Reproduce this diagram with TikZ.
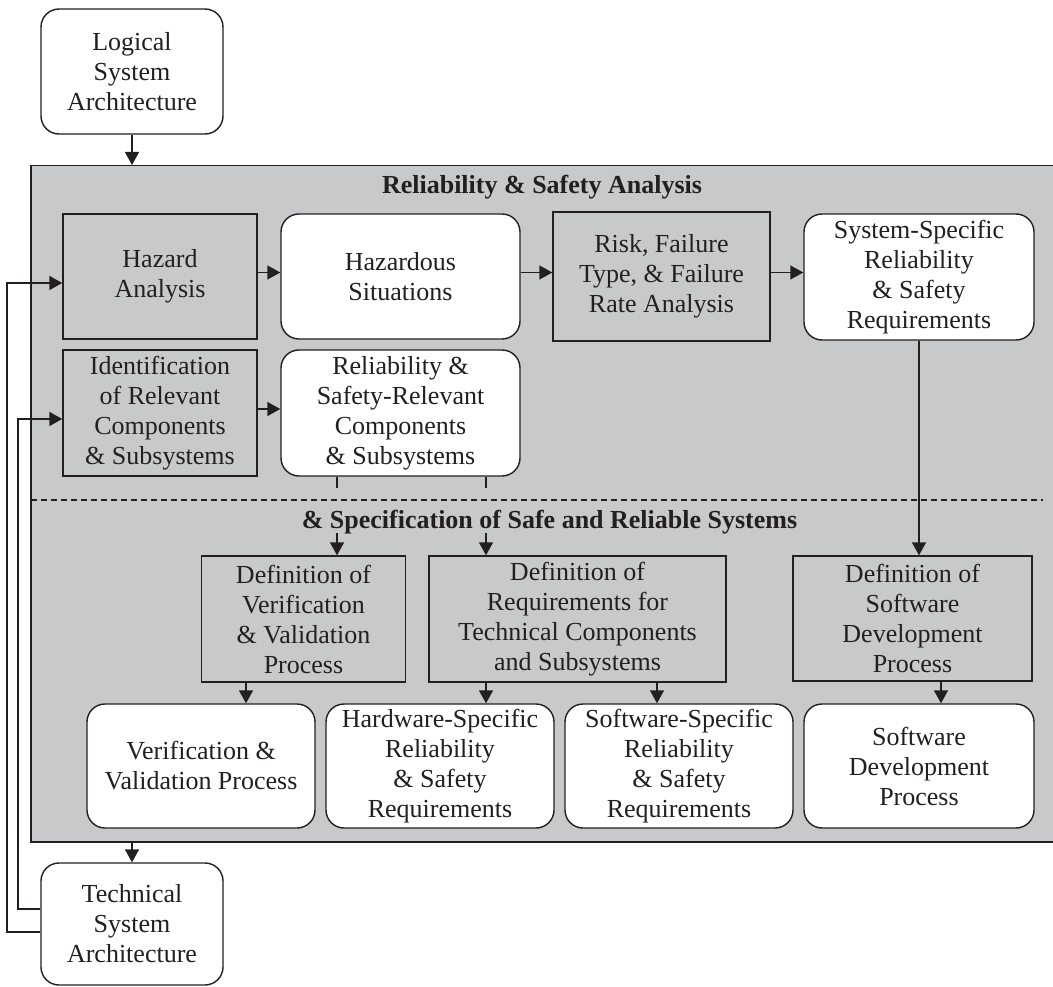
\documentclass[tikz,border=0pt]{standalone}
\usepackage{fontspec}
\setmainfont{Liberation Serif}
\usetikzlibrary{arrows.meta,calc}
\definecolor{panelgray}{HTML}{C8C9CB}
\definecolor{ink}{HTML}{231F20}

\begin{document}
\begin{tikzpicture}[x=1pt,y=-1pt,
  every node/.style={font=\fontsize{26}{30}\selectfont, text=ink, align=center, inner sep=0pt},
  dims/.style 2 args={minimum width=#1pt, minimum height=#2pt},
  procbox/.style={draw=ink, line width=1.4pt, fill=panelgray},
  resbox/.style={draw=ink, line width=1.4pt, fill=white, rounded corners=18pt},
  heading/.style={font=\fontsize{26}{30}\selectfont\bfseries},
  link/.style={draw=ink, line width=1.4pt},
  flow/.style={link, -{Triangle[length=13pt,width=14pt]}},
]
\useasboundingbox (0,0) rectangle (1053,987);

% shaded analysis panel
\node[procbox, line width=1.5pt, anchor=north west, dims={1040}{676}] (panel) at (30,165) {};

% architecture inputs and outputs
\node[resbox, dims={182}{125}] (logical) at (132,71.5) {Logical\\System\\Architecture};
\node[resbox, dims={182}{122}] (tech) at (132,924) {Technical\\System\\Architecture};

% headings and separator
\node[heading] (h1) at (542,187) {Reliability \& Safety Analysis};
\node[heading] (h2) at (549.5,522) {\& Specification of Safe and Reliable Systems};
\coordinate (dl) at (31,500);
\coordinate (dr) at (1043,500);
\draw[draw=ink, line width=1.1pt, dash pattern=on 6pt off 4pt] (dl) -- (dr);

% analysis row
\node[procbox, dims={194}{125}] (ha) at (160,276.5) {Hazard\\Analysis};
\node[resbox, dims={239}{125}] (hs) at (400.5,276.5) {Hazardous\\Situations};
\node[procbox, dims={217}{129}] (risk) at (661.5,276.5) {Risk, Failure\\Type, \& Failure\\Rate Analysis};
\node[resbox, dims={230}{126}] (sys) at (919,277) {System-Specific\\Reliability\\\& Safety\\Requirements};

\node[procbox, dims={194}{126}] (id) at (160,413) {Identification\\of Relevant\\Components\\\& Subsystems};
\node[resbox, dims={239}{126}] (rsr) at (400.5,413) {Reliability \&\\Safety-Relevant\\Components\\\& Subsystems};

% specification row
\node[procbox, dims={204}{126}] (defvv) at (303.5,619) {Definition of\\Verification\\\& Validation\\Process};
\node[procbox, dims={297}{126}] (defreq) at (577.5,619) {Definition of\\Requirements for\\Technical Components\\and Subsystems};
\node[procbox, dims={239}{125}] (defsw) at (912.5,618.5) {Definition of\\Software\\Development\\Process};

\node[resbox, dims={228}{124}] (vvp) at (201,766) {Verification \&\\Validation Process};
\node[resbox, dims={228}{124}] (hw) at (440,766) {Hardware-Specific\\Reliability\\\& Safety\\Requirements};
\node[resbox, dims={228}{124}] (sws) at (679,766) {Software-Specific\\Reliability\\\& Safety\\Requirements};
\node[resbox, dims={230}{124}] (swd) at (919,766) {Software\\Development\\Process};

% connectors
\draw[flow] (logical.south) -- (logical.south |- panel.north);
\draw[flow] (tech.north |- panel.south) -- (tech.north);

\draw[flow] ([yshift=4pt]ha.east) -- ([yshift=4pt]ha.east -| hs.west);
\draw[flow] ([yshift=4pt]hs.east) -- ([yshift=4pt]hs.east -| risk.west);
\draw[flow] ([yshift=4pt]risk.east) -- ([yshift=4pt]risk.east -| sys.west);
\draw[flow] ([yshift=4pt]id.east) -- ([yshift=4pt]id.east -| rsr.west);

\draw[flow] (sys.south) -- (sys.south |- defsw.north);

% stubs leaving the relevant components, resumed below the heading
\coordinate (s1) at (337,488);
\coordinate (s2) at (486,488);
\coordinate (t1) at (337,533);
\coordinate (t2) at (486,533);
\draw[link] (rsr.south -| s1) -- (s1);
\draw[link] (rsr.south -| s2) -- (s2);
\draw[flow] (t1) -- (t1 |- defvv.north);
\draw[flow] (t2) -- (t2 |- defreq.north);

\draw[flow] ([xshift=-57.5pt]defvv.south) -- ([xshift=-57.5pt]defvv.south |- vvp.north);
\draw[flow] ([xshift=-91.5pt]defreq.south) -- ([xshift=-91.5pt]defreq.south |- hw.north);
\draw[flow] ([xshift=79.5pt]defreq.south) -- ([xshift=79.5pt]defreq.south |- sws.north);
\draw[flow] ([xshift=28.5pt]defsw.south) -- ([xshift=28.5pt]defsw.south |- swd.north);

% feedback from the technical architecture
\coordinate (fbA) at (7,600);
\coordinate (fbB) at (18,600);
\draw[flow] ([yshift=-8pt]tech.west) -| (fbA) |- ([yshift=-6.5pt]ha.west);
\draw[flow] ([yshift=15pt]tech.west) -| (fbB) |- ([yshift=-6pt]id.west);
\end{tikzpicture}
\end{document}
